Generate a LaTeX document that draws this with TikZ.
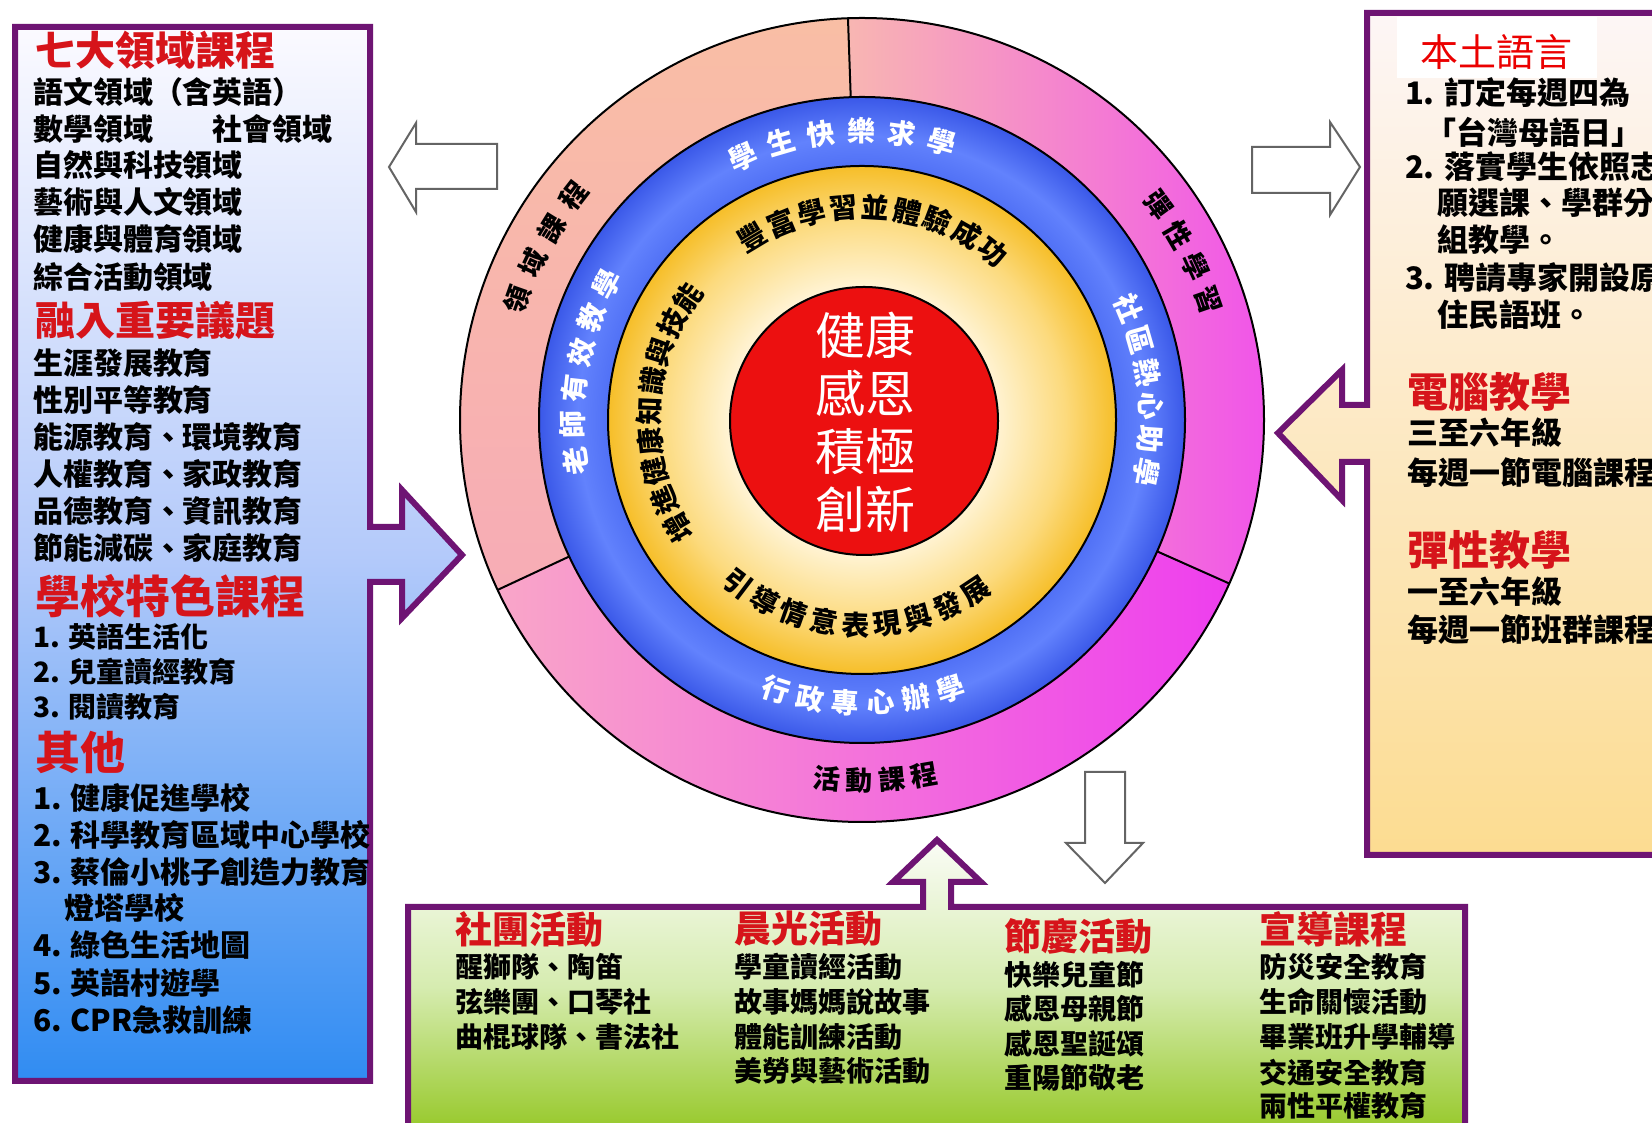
\documentclass[tikz,border=0pt]{standalone}
\usepackage{fontspec}
\newfontfamily\cjk{Noto Sans CJK TC}
\usetikzlibrary{decorations.text}

\definecolor{purp}{RGB}{110,20,115}
\definecolor{tred}{RGB}{214,20,26}
\definecolor{titlered}{RGB}{235,0,0}
\definecolor{arrgray}{RGB}{100,100,100}
\definecolor{lbTop}{RGB}{251,250,255}
\definecolor{lbMid}{RGB}{180,202,250}
\definecolor{lbBot}{RGB}{48,140,242}
\definecolor{rbTop}{RGB}{253,246,246}
\definecolor{rbBot}{RGB}{252,220,145}
\definecolor{bbTop}{RGB}{250,252,246}
\definecolor{bbMid}{RGB}{214,236,176}
\definecolor{bbBot}{RGB}{150,200,40}
\definecolor{secLt}{RGB}{249,190,165}
\definecolor{secLb}{RGB}{247,172,182}
\definecolor{secRl}{RGB}{248,182,178}
\definecolor{secRr}{RGB}{240,72,240}
\definecolor{secBl}{RGB}{249,166,200}
\definecolor{secBr}{RGB}{238,62,238}
\definecolor{blueA}{RGB}{80,112,245}
\definecolor{blueB}{RGB}{98,130,253}
\definecolor{blueC}{RGB}{58,88,232}
\definecolor{yelA}{RGB}{255,244,214}
\definecolor{yelB}{RGB}{252,218,125}
\definecolor{yelC}{RGB}{246,190,40}
\definecolor{redc}{RGB}{236,16,16}

\pgfdeclareradialshading{bluering}{\pgfpoint{0bp}{0bp}}{color(0bp)=(blueA); color(19.6bp)=(blueA); color(22bp)=(blueB); color(25bp)=(blueC); color(50bp)=(blueC)}
\pgfdeclareradialshading{yelring}{\pgfpoint{0bp}{0bp}}{color(0bp)=(yelA); color(13bp)=(yelA); color(20bp)=(yelB); color(25bp)=(yelC); color(50bp)=(yelC)}

\newcommand\rgA{\cjk\bfseries\fontsize{28}{30}\selectfont}
\newcommand\rgC{\cjk\bfseries\fontsize{27}{29}\selectfont}

% #1 start angle, #2 end angle, #3 radius, #4 font, #5 colour, #6 raise, #7 text
\newcommand\ringtext[7]{%
  \path[decorate, decoration={text along path, text align={fit to path}, raise=#6, text color=#5, text={|#4|#7}}]
    ([shift={(862,703)}]#1:#3) arc[start angle=#1, end angle=#2, radius=#3];}

\begin{document}
\begin{tikzpicture}[x=1pt, y=1pt,
  every node/.style={inner sep=0pt, outer sep=0pt},
  lbody/.style={anchor=west, font=\cjk\bfseries\fontsize{30}{32}\selectfont},
  lsmall/.style={anchor=west, font=\cjk\bfseries\fontsize{28}{30}\selectfont},
  ltitle/.style={anchor=west, text=tred, font=\cjk\bfseries\fontsize{40}{44}\selectfont},
  rbody/.style={anchor=west, font=\cjk\bfseries\fontsize{31}{33}\selectfont},
  rtitle/.style={anchor=west, text=tred, font=\cjk\bfseries\fontsize{41}{44}\selectfont},
  bbody/.style={anchor=west, font=\cjk\bfseries\fontsize{28}{30}\selectfont},
  btitle/.style={anchor=west, text=tred, font=\cjk\bfseries\fontsize{37}{40}\selectfont},
  whitearrow/.style={fill=white, draw=arrgray, line width=2pt, line join=miter},
  boxline/.style={draw=purp, line width=6pt, line join=miter},
  ringline/.style={draw=black, line width=2pt}]

\useasboundingbox (0,0) rectangle (1652,1123);
\fill[white] (0,0) rectangle (1652,1123);

% ---------- left box with arrow ----------
\path[boxline, top color=lbTop, bottom color=lbBot, middle color=lbMid]
  (15,1096) -- (370,1096) -- (370,596) -- (402,596) -- (402,633) -- (462,568)
  -- (402,505) -- (402,541) -- (370,541) -- (370,42) -- (15,42) -- cycle;

% ---------- right box with arrow ----------
\path[boxline, top color=rbTop, bottom color=rbBot]
  (1665,1110) -- (1367,1110) -- (1367,718) -- (1342,718) -- (1342,753) -- (1278,690)
  -- (1342,623) -- (1342,661) -- (1367,661) -- (1367,268) -- (1665,268);
\fill[white] (1397,1045) rectangle (1597,1106);

% ---------- bottom box with arrow ----------
\path[boxline, top color=bbTop, bottom color=bbBot, middle color=bbMid]
  (408,-10) -- (408,216) -- (923,216) -- (923,241) -- (893,241) -- (937,283)
  -- (981,241) -- (951,241) -- (951,216) -- (1465,216) -- (1465,-10);

% ---------- white arrows ----------
\path[whitearrow] (497,979) -- (416,979) -- (416,1000) -- (389,956) -- (416,911) -- (416,934) -- (497,934) -- cycle;
\path[whitearrow] (1252,976) -- (1330,976) -- (1330,1001) -- (1360,956) -- (1330,908) -- (1330,930) -- (1252,930) -- cycle;
\path[whitearrow] (1085,351) -- (1125,351) -- (1125,280) -- (1143,280) -- (1105,240) -- (1066,280) -- (1085,280) -- cycle;

% ---------- rings ----------
\path[top color=secLt, bottom color=secLb] (862,703) -- ([shift={(862,703)}]92:402) arc[start angle=92, end angle=205, radius=402] -- cycle;
\path[left color=secRl, right color=secRr] (862,703) -- ([shift={(862,703)}]-24:402) arc[start angle=-24, end angle=92, radius=402] -- cycle;
\path[left color=secBl, right color=secBr] (862,703) -- ([shift={(862,703)}]205:402) arc[start angle=205, end angle=336, radius=402] -- cycle;
\draw[ringline] (862,703) circle[radius=402];
\draw[ringline] ([shift={(862,703)}]92:320) -- ([shift={(862,703)}]92:402);
\draw[ringline] ([shift={(862,703)}]205:320) -- ([shift={(862,703)}]205:402);
\draw[ringline] ([shift={(862,703)}]336:320) -- ([shift={(862,703)}]336:402);
\path[shading=bluering, draw=black, line width=2pt] (862,703) circle[radius=323];
\path[shading=yelring, draw=black, line width=2pt] (862,703) circle[radius=254];
\draw[ringline, fill=redc] (864,702) circle[radius=134];

\node[font=\cjk\fontsize{50}{58}\selectfont, text=white, align=center] (core) at (865,701) {健康\\感恩\\積極\\創新};

% ring texts
\ringtext{162.8}{140}{365}{\rgC}{black}{-10.3pt}{領域課程}
\ringtext{38.1}{17}{367}{\rgC}{black}{-10.3pt}{彈性學習}
\ringtext{262.2}{282.1}{360}{\rgC}{black}{-10.3pt}{活動課程}
\ringtext{117.2}{71.2}{289}{\rgA}{white}{-10.6pt}{學生快樂求學}
\ringtext{25.4}{-13.2}{289}{\rgA}{white}{-10.6pt}{社區熱心助學}
\ringtext{191}{149.2}{289}{\rgA}{white}{-10.6pt}{老師有效教學}
\ringtext{249.5}{291}{283}{\rgA}{white}{-10.6pt}{行政專心辦學}
\ringtext{124.7}{48.2}{213}{\rgA}{black}{-10.6pt}{豐富學習並體驗成功}
\ringtext{214.1}{141.2}{213}{\rgA}{black}{-10.6pt}{增進健康知識與技能}
\ringtext{228.9}{307.5}{205}{\rgA}{black}{-10.6pt}{引導情意表現與發展}

% ---------- left box texts ----------
\node[ltitle] (lt1) at (35,1073) {七大領域課程};
\node[lbody] (l1) at (33,1031) {語文領域（含英語）};
\node[lbody] (l2) at (33,994) {數學領域　　社會領域};
\node[lbody] (l3) at (33,958) {自然與科技領域};
\node[lbody] (l4) at (33,921) {藝術與人文領域};
\node[lbody] (l5) at (33,884) {健康與體育領域};
\node[lbody] (l6) at (33,846) {綜合活動領域};
\node[ltitle] (lt2) at (35,803) {融入重要議題};
\node[lbody] (l7) at (33,760) {生涯發展教育};
\node[lbody] (l8) at (33,723) {性別平等教育};
\node[lbody] (l9) at (33,686) {能源教育、環境教育};
\node[lbody] (l10) at (33,649) {人權教育、家政教育};
\node[lbody] (l11) at (33,612) {品德教育、資訊教育};
\node[lbody] (l12) at (33,575) {節能減碳、家庭教育};
\node[ltitle, font=\cjk\bfseries\fontsize{45}{48}\selectfont] (lt3) at (35,527) {學校特色課程};
\node[lsmall] (l13) at (33,486) {1. 英語生活化};
\node[lsmall] (l14) at (33,451) {2. 兒童讀經教育};
\node[lsmall] (l15) at (33,416) {3. 閱讀教育};
\node[ltitle, font=\cjk\bfseries\fontsize{45}{48}\selectfont] (lt4) at (35,371) {其他};
\node[lbody] (l16) at (33,325) {1. 健康促進學校};
\node[lbody] (l17) at (33,288) {2. 科學教育區域中心學校};
\node[lbody] (l18) at (33,251) {3. 蔡倫小桃子創造力教育};
\node[lbody] (l19) at (64,215) {燈塔學校};
\node[lbody] (l20) at (33,178) {4. 綠色生活地圖};
\node[lbody] (l21) at (33,140) {5. 英語村遊學};
\node[lbody] (l22) at (33,103) {6. CPR急救訓練};

% ---------- right box texts ----------
\begin{scope}
\clip (1300,200) rectangle (1652,1123);
\node[anchor=west, text=titlered, font=\cjk\fontsize{38}{40}\selectfont] (r0) at (1420,1071) {本土語言};
\node[rbody] (r1) at (1405,1030) {1. 訂定每週四為};
\node[rbody] (r2) at (1425,991) {「台灣母語日」};
\node[rbody] (r3) at (1405,956) {2. 落實學生依照志};
\node[rbody] (r4) at (1437,920) {願選課、學群分};
\node[rbody] (r5) at (1437,883) {組教學。};
\node[rbody] (r6) at (1405,845) {3. 聘請專家開設原};
\node[rbody] (r7) at (1437,808) {住民語班。};
\node[rtitle] (r8) at (1407,731) {電腦教學};
\node[rbody] (r9) at (1407,690) {三至六年級};
\node[rbody] (r10) at (1407,650) {每週一節電腦課程};
\node[rtitle] (r11) at (1407,573) {彈性教學};
\node[rbody] (r12) at (1407,531) {一至六年級};
\node[rbody] (r13) at (1407,493) {每週一節班群課程};
\end{scope}

% ---------- bottom box texts ----------
\node[btitle] (b1t) at (455,194) {社團活動};
\node[bbody] (b11) at (455,156) {醒獅隊、陶笛};
\node[bbody] (b12) at (455,121) {弦樂團、口琴社};
\node[bbody] (b13) at (455,86) {曲棍球隊、書法社};
\node[btitle] (b2t) at (734,194) {晨光活動};
\node[bbody] (b21) at (734,156) {學童讀經活動};
\node[bbody] (b22) at (734,121) {故事媽媽說故事};
\node[bbody] (b23) at (734,86) {體能訓練活動};
\node[bbody] (b24) at (734,52) {美勞與藝術活動};
\node[btitle] (b3t) at (1004,187) {節慶活動};
\node[bbody] (b31) at (1004,148) {快樂兒童節};
\node[bbody] (b32) at (1004,114) {感恩母親節};
\node[bbody] (b33) at (1004,79) {感恩聖誕頌};
\node[bbody] (b34) at (1004,45) {重陽節敬老};
\node[btitle] (b4t) at (1259,194) {宣導課程};
\node[bbody] (b41) at (1259,156) {防災安全教育};
\node[bbody] (b42) at (1259,121) {生命關懷活動};
\node[bbody] (b43) at (1259,86) {畢業班升學輔導};
\node[bbody] (b44) at (1259,50) {交通安全教育};
\node[bbody] (b45) at (1259,17) {兩性平權教育};
\end{tikzpicture}
\end{document}
